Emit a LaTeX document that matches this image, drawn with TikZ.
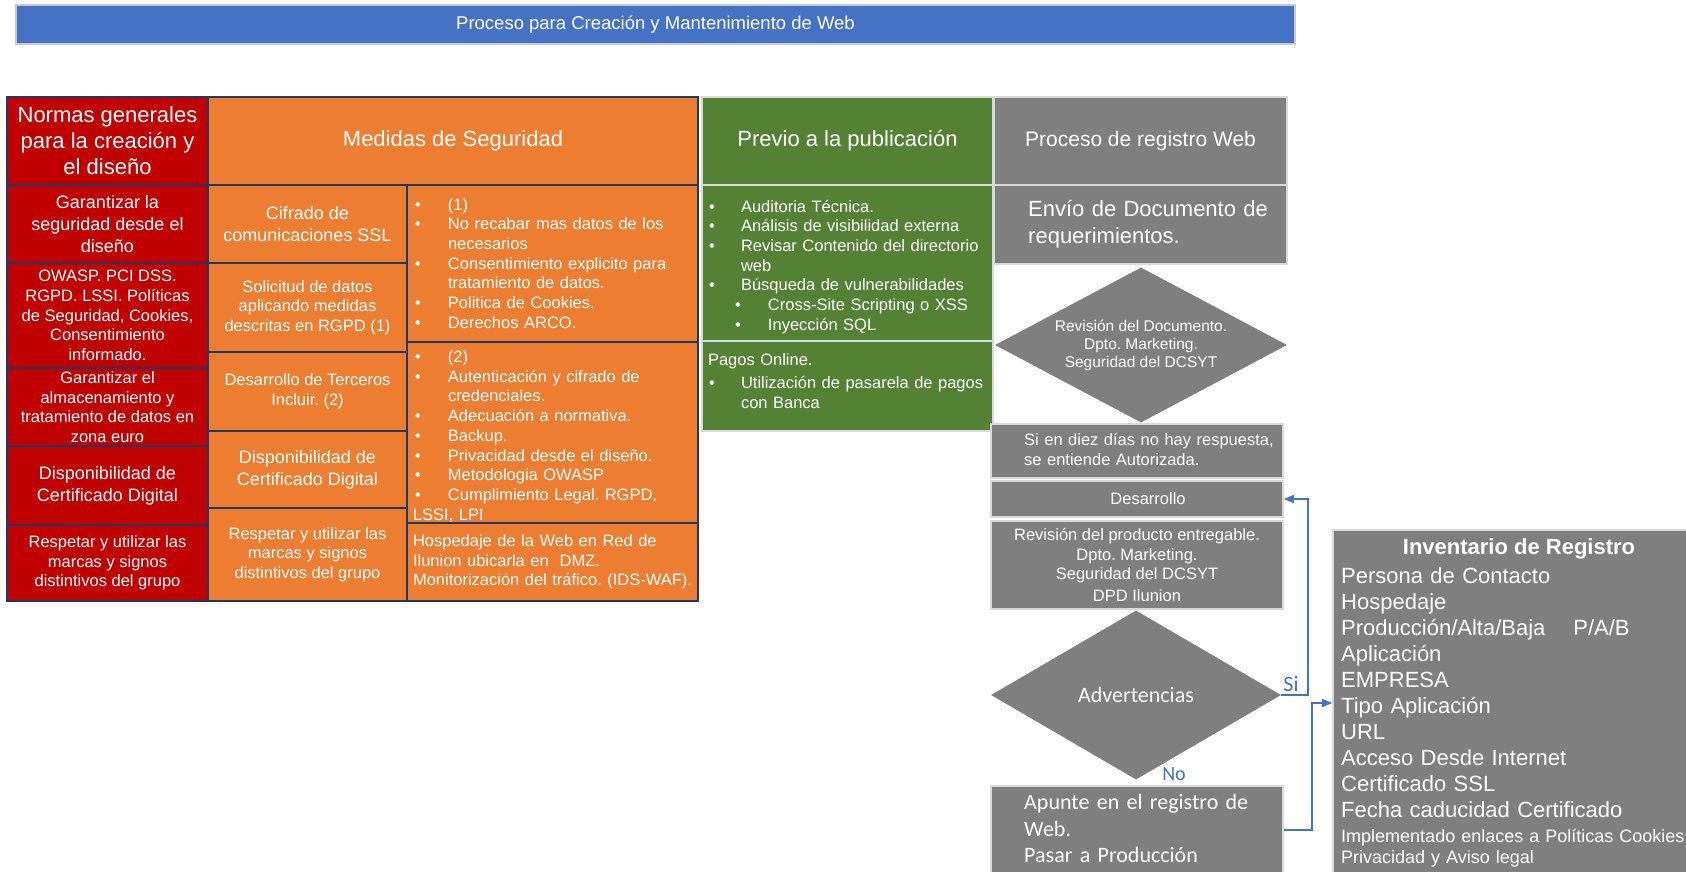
\documentclass[tikz,border=0pt]{standalone}
\usepackage{fontspec}
\setmainfont{Liberation Sans}
\newfontfamily\calibfont{Carlito}
\usetikzlibrary{shapes.geometric,arrows.meta}
\setlength{\parindent}{0pt}
\frenchspacing

\definecolor{titleblue}{HTML}{4472C4}
\definecolor{cellred}{HTML}{C00000}
\definecolor{cellorange}{HTML}{ED7D31}
\definecolor{cellgreen}{HTML}{548235}
\definecolor{cellgray}{HTML}{7F7F7F}
\definecolor{navyline}{HTML}{203864}
\definecolor{lightline}{HTML}{D9D9D9}
\definecolor{barline}{HTML}{C9C9C9}

\newcommand{\setfs}[2]{\fontsize{#1}{#2}\selectfont}
\newcommand{\bitem}[3]{\par\hangindent=#2\hangafter=1\noindent\makebox[#2][l]{\hspace{#1}\textbullet}#3}
\newcommand{\oitem}[1]{\bitem{2pt}{35pt}{#1}}
\newcommand{\gitem}[1]{\bitem{1pt}{33pt}{#1}}
\newcommand{\gsubitem}[1]{\bitem{27pt}{60pt}{#1}}

\tikzset{
  cellbox/.style={draw=#1, line width=1.6pt, text=white, inner xsep=4pt, inner ysep=1pt, align=center},
  redcell/.style={cellbox=navyline, fill=cellred},
  orgcell/.style={cellbox=navyline, fill=cellorange},
  grncell/.style={cellbox=lightline, fill=cellgreen},
  grycell/.style={cellbox=lightline, fill=cellgray},
  listcell/.style={align=left, inner xsep=6pt, text width=279pt},
  bigtxt/.style={font=\setfs{22}{26}},
  midtxt/.style={font=\setfs{18}{21.7}},
  smalltxt/.style={font=\setfs{16.5}{19.7}},
  plaintext/.style={text=white, inner sep=0pt, align=left},
  decision/.style={diamond, fill=cellgray, text=white, inner sep=0pt, align=center},
  flowarrow/.style={draw=titleblue, line width=1.5pt, -{Triangle[length=10pt,width=8pt]}},
  flowlabel/.style={text=titleblue, inner sep=0pt}
}

\begin{document}
\begin{tikzpicture}[x=1pt,y=-1pt]
\useasboundingbox (0,0) rectangle (1686,871);
\clip (0,0) rectangle (1686,871);

% Title bar
\node[cellbox=barline, fill=titleblue, minimum width=1279pt, minimum height=39pt, font=\setfs{18.5}{21}] (titulo) at (655.5,24.5) {Proceso para Creación y Mantenimiento de Web};

% Column: Normas generales
\node[redcell, minimum width=201pt, minimum height=88pt, bigtxt] (normas) at (107.5,141) {Normas generales\\para la creación y\\el diseño};
\node[redcell, minimum width=201pt, minimum height=78pt, midtxt] (garseg) at (107.5,224) {Garantizar la\\seguridad desde el\\diseño};
\node[redcell, minimum width=201pt, minimum height=105pt, smalltxt] (owasp) at (107.5,315.5) {OWASP. PCI DSS.\\RGPD. LSSI. Políticas\\de Seguridad, Cookies,\\Consentimiento\\informado.};
\node[redcell, minimum width=201pt, minimum height=78pt, smalltxt] (garalm) at (107.5,407) {Garantizar el\\almacenamiento y\\tratamiento de datos en\\zona euro};
\node[redcell, minimum width=201pt, minimum height=79pt, midtxt] (certred) at (107.5,485.5) {Disponibilidad de\\Certificado Digital};
\node[redcell, minimum width=201pt, minimum height=76pt, smalltxt] (marcared) at (107.5,563) {Respetar y utilizar las\\marcas y signos\\distintivos del grupo};

% Column: Medidas de Seguridad
\node[orgcell, minimum width=490pt, minimum height=88pt, bigtxt] (medidas) at (453,141) {Medidas de Seguridad};
\node[orgcell, minimum width=199pt, minimum height=78pt, midtxt] (cifrado) at (307.5,224) {Cifrado de\\comunicaciones SSL};
\node[orgcell, minimum width=199pt, minimum height=89pt, smalltxt] (solicitud) at (307.5,307.5) {Solicitud de datos\\aplicando medidas\\descritas en RGPD (1)};
\node[orgcell, minimum width=199pt, minimum height=79pt, smalltxt] (terceros) at (307.5,391.5) {Desarrollo de Terceros\\Incluir. (2)};
\node[orgcell, minimum width=199pt, minimum height=77pt, midtxt] (certorg) at (307.5,469.5) {Disponibilidad de\\Certificado Digital};
\node[orgcell, minimum width=199pt, minimum height=93pt, smalltxt] (marcaorg) at (307.5,554.5) {Respetar y utilizar las\\marcas y signos\\distintivos del grupo};

% Medidas: detail lists
\node[orgcell, listcell, minimum width=291pt, minimum height=157pt, smalltxt] (lista1) at (552.5,263.5) {%
\oitem{(1)}
\oitem{No recabar mas datos de los\newline necesarios}
\oitem{Consentimiento explicito para\newline tratamiento de datos.}
\oitem{Politica de Cookies.}
\oitem{Derechos ARCO.}\par\vspace{8pt}};
\node[orgcell, listcell, minimum width=291pt, minimum height=181pt, smalltxt] (lista2) at (552.5,432.5) {%
\oitem{(2)}
\oitem{Autenticación y cifrado de\newline credenciales.}
\oitem{Adecuación a normativa.}
\oitem{Backup.}
\oitem{Privacidad desde el diseño.}
\oitem{Metodologia OWASP}
\oitem{Cumplimiento Legal. RGPD,\newline LSSI, LPI}};
\node[orgcell, listcell, inner xsep=4pt, text width=283pt, minimum width=291pt, minimum height=78pt, smalltxt] (hospedaje) at (552.5,562) {\hspace*{2pt}Hospedaje de la Web en Red de\\\hspace*{2pt}Ilunion ubicarla en\ \ DMZ.\\\hspace*{2pt}Monitorización del tráfico. (IDS-WAF).};

% Column: Previo a la publicacion
\node[grncell, minimum width=291pt, minimum height=88pt, bigtxt] (previo) at (847.5,141) {Previo a la publicación};
\node[grncell, listcell, minimum width=291pt, minimum height=156pt, smalltxt] (auditoria) at (847.5,263) {%
\gitem{Auditoria Técnica.}
\gitem{Análisis de visibilidad externa}
\gitem{Revisar Contenido del directorio\newline web}
\gitem{Búsqueda de vulnerabilidades}
\gsubitem{Cross-Site Scripting o XSS}
\gsubitem{Inyección SQL}};
\node[grncell, listcell, minimum width=291pt, minimum height=90pt, smalltxt] (pagos) at (847.5,386) {%
Pagos Online.\par\vspace{3pt}
\gitem{Utilización de pasarela de pagos\newline con Banca}\par\vspace{10pt}};

% Column: Proceso de registro Web
\node[grycell, minimum width=293pt, minimum height=88pt, font=\setfs{21}{25}] (registro) at (1140.5,141) {Proceso de registro Web};
\node[grycell, minimum width=293pt, minimum height=79pt] (envio) at (1140.5,224.5) {};
\node[plaintext, anchor=west, text width=250pt, font=\setfs{22}{27}] (enviotxt) at (1028,224.5) {Envío de Documento de\\requerimientos.};

% Decision: revision del documento
\node[decision, aspect=1.88, minimum width=292pt, minimum height=155pt, font=\setfs{15.5}{18}] (revdoc) at (1141,345) {Revisión del Documento.\\Dpto. Marketing.\\Seguridad del DCSYT};

% Flow boxes
\node[grycell, minimum width=292pt, minimum height=54pt] (diezdias) at (1137,451) {};
\node[plaintext, anchor=north west, text width=260pt, smalltxt] (diezdiastxt) at (1024,433) {Si en diez días no hay respuesta,\\se entiende Autorizada.};
\node[grycell, minimum width=292pt, minimum height=36pt] (desarrollo) at (1137,499) {};
\node[plaintext, smalltxt] (desarrollotxt) at (1148,499) {Desarrollo};
\node[grycell, minimum width=292pt, minimum height=88pt, smalltxt] (revprod) at (1137,565) {Revisión del producto entregable.\\Dpto. Marketing.\\Seguridad del DCSYT\\[2pt]DPD Ilunion};

% Decision: advertencias
\node[decision, aspect=1.72, minimum width=290pt, minimum height=169pt, font=\calibfont\setfs{22}{26}] (advert) at (1136,695) {Advertencias};

% Production entry
\node[grycell, minimum width=292pt, minimum height=88pt] (apunte) at (1137,830) {};
\node[plaintext, anchor=north west, text width=255pt, font=\calibfont\setfs{22}{26.7}] (apuntetxt) at (1024,794) {Apunte en el registro de\\Web.\\Pasar a Producción};

% Inventory box
\node[grycell, minimum width=372pt, minimum height=365pt] (inventario) at (1519,712.5) {};
\node[text=white, inner sep=0pt, font=\bfseries\setfs{22}{26}] (invtitulo) at (1519,549) {Inventario de Registro};
\node[plaintext, anchor=north west, text width=340pt, font=\setfs{22}{26}] (invlista) at (1341,567) {Persona de Contacto\\Hospedaje\\Producción/Alta/Baja\hspace{28pt}P/A/B\\Aplicación\\EMPRESA\\Tipo Aplicación\\URL\\Acceso Desde Internet\\Certificado SSL\\Fecha caducidad Certificado};
\node[plaintext, anchor=north west, text width=345pt, font=\setfs{18}{21}] (invlegal) at (1341,829) {Implementado enlaces a Políticas Cookies\\Privacidad y Aviso legal};

% Connectors
\coordinate (sibend) at (1308,695);
\coordinate (prodbend) at (1312,703);
\draw[flowarrow] (advert.east) -- (sibend) |- (desarrollo.east);
\draw[flowarrow] (apunte.east) -| (prodbend) -- (prodbend -| inventario.west);
\node[flowlabel, font=\calibfont\setfs{22}{26}] (silbl) at (1291,684) {Si};
\node[flowlabel, font=\calibfont\setfs{20}{24}] (nolbl) at (1174,774) {No};
\end{tikzpicture}
\end{document}
